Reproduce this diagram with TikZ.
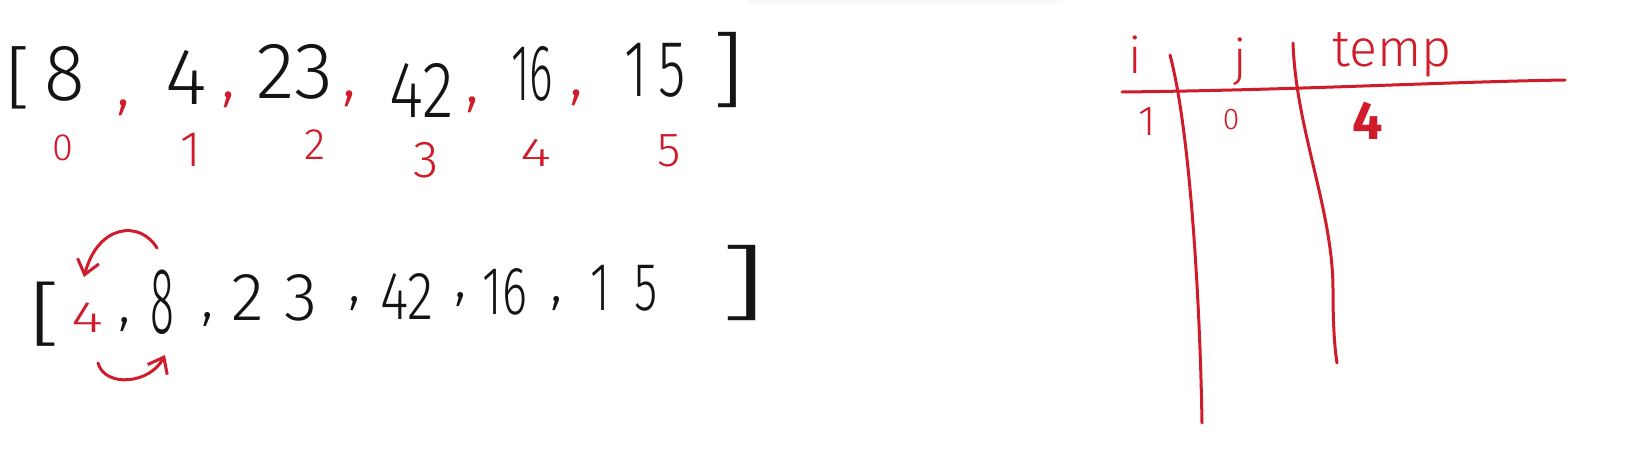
\documentclass[tikz,border=0pt]{standalone}
\usepackage{fontspec}
\setmainfont{Fira Sans}[UprightFont={* Light}, BoldFont={* Bold}, ItalicFont={* Light Italic}, BoldItalicFont={* Bold Italic}]
\usetikzlibrary{arrows.meta}
\definecolor{pen}{RGB}{20,20,20}
\definecolor{redpen}{RGB}{208,28,42}
\newcommand{\narrowtxt}[2][0.62]{\scalebox{#1}[1]{#2}}
\begin{document}
\begin{tikzpicture}[x=0.5pt,y=-0.5pt,
  base/.style={inner sep=0pt, outer sep=0pt},
  numA/.style={base, text=pen, font=\fontsize{40}{40}\selectfont},
  numB/.style={base, text=pen, font=\fontsize{34}{34}\selectfont},
  idx/.style={base, text=redpen, font=\fontsize{#1}{#1}\selectfont},
  rcomma/.style={base, text=redpen, font=\fontsize{34}{34}\selectfont},
  bcomma/.style={base, text=pen, font=\fontsize{30}{30}\selectfont},
  brk/.style={base, text=pen, font=\fontsize{#1}{#1}\selectfont},
  redline/.style={draw=redpen, line width=1.5pt, line cap=round},
  redarrow/.style={draw=redpen, line width=1.5pt, line cap=round, -{Straight Barb[length=7pt,width=11pt]}},
  tbl/.style={base, text=redpen, font=\fontsize{#1}{#1}\selectfont}
]
\useasboundingbox (0,0) rectangle (1634,455);
\fill[white] (0,0) rectangle (1634,455);
\fill[gray!4] (747,0) rectangle (1062,4);

% ---- first array ----
\node[brk=34] (lb1) at (18,78) {\narrowtxt[1.2]{[}};
\node[numA] (a0) at (65,74) {\narrowtxt[0.94]{8}};
\node[rcomma] (c01) at (124,108) {,};
\node[numA] (a1) at (186,77) {\narrowtxt[1.0]{4}};
\node[rcomma] (c12) at (229,100) {,};
\node[numA] (a2) at (295,72) {\narrowtxt[1.0]{23}};
\node[rcomma] (c23) at (350,99) {,};
\node[numA] (a3) at (422,90) {\narrowtxt[0.82]{42}};
\node[rcomma] (c34) at (473,105) {,};
\node[numA] (a4) at (532,74) {\narrowtxt[0.56]{16}};
\node[rcomma] (c45) at (577,98) {,};
\node[numA] (a5) at (655,70) {\narrowtxt[0.7]{1\hspace{0.2em}5}};
\node[brk=41] (rb1) at (728,70) {\narrowtxt[1.3]{]}};

% ---- indices ----
\node[idx=19] (i0) at (63,148) {0};
\node[idx=25] (i1) at (191,150) {1};
\node[idx=22] (i2) at (315,145) {2};
\node[idx=26] (i3) at (426,160) {3};
\node[idx=20] (i4) at (536,153) {\narrowtxt[1.5]{4}};
\node[idx=24] (i5) at (669,151) {5};

% ---- second array ----
\node[brk=35] (lb2) at (45,314) {\narrowtxt[1.5]{[}};
\node[idx=22] (b0) at (87,318) {\narrowtxt[1.4]{4}};
\node[bcomma] (d01) at (125,325) {,};
\node[numB, font=\fontsize{47}{47}\selectfont] (b1) at (162,302) {\narrowtxt[0.47]{8}};
\node[bcomma] (d12) at (208,320) {,};
\node[numB] (b2) at (275,298) {\narrowtxt[1.0]{2\hspace{0.3em}3}};
\node[bcomma] (d23) at (355,304) {,};
\node[numB] (b3) at (407,297) {\narrowtxt[0.8]{42}};
\node[bcomma] (d34) at (461,300) {,};
\node[numB] (b4) at (505,292) {\narrowtxt[0.7]{16}};
\node[bcomma] (d45) at (557,304) {,};
\node[numB] (b5) at (624,288) {\narrowtxt[0.7]{1\hspace{0.5em}5}};
\node[brk=41] (rb2) at (743,283) {\narrowtxt[2.0]{]}};

% ---- swap arrows ----
\coordinate (ua) at (157,248);
\coordinate (ub) at (84,277);
\coordinate (la) at (98,363);
\coordinate (lb) at (165,355);
\draw[redarrow] (ua) .. controls (140,220) and (98,224) .. (ub);
\draw[redarrow] (la) .. controls (105,388) and (150,384) .. (lb);

% ---- table ----
\node[tbl=25] (ti) at (1135,55) {i};
\node[tbl=25] (tj) at (1240,62) {j};
\node[tbl=26] (tt) at (1392,55) {temp};
\coordinate (h1) at (1122,92);
\coordinate (h2) at (1565,80);
\coordinate (v1a) at (1170,55);
\coordinate (v1b) at (1202,423);
\coordinate (v2a) at (1293,43);
\coordinate (v2b) at (1337,363);
\draw[redline] (h1) .. controls (1300,90) and (1440,82) .. (h2);
\draw[redline] (v1a) .. controls (1190,130) and (1200,300) .. (v1b);
\draw[redline] (v2a) .. controls (1296,130) and (1333,210) .. (1333,290) .. controls (1333,330) and (1335,350) .. (v2b);
\node[tbl=21] (t1) at (1147,122) {1};
\node[tbl=15] (t0) at (1231,120) {0};
\node[tbl=27, font=\fontsize{27}{27}\selectfont\bfseries] (t4) at (1368,121) {4};
\end{tikzpicture}
\end{document}
